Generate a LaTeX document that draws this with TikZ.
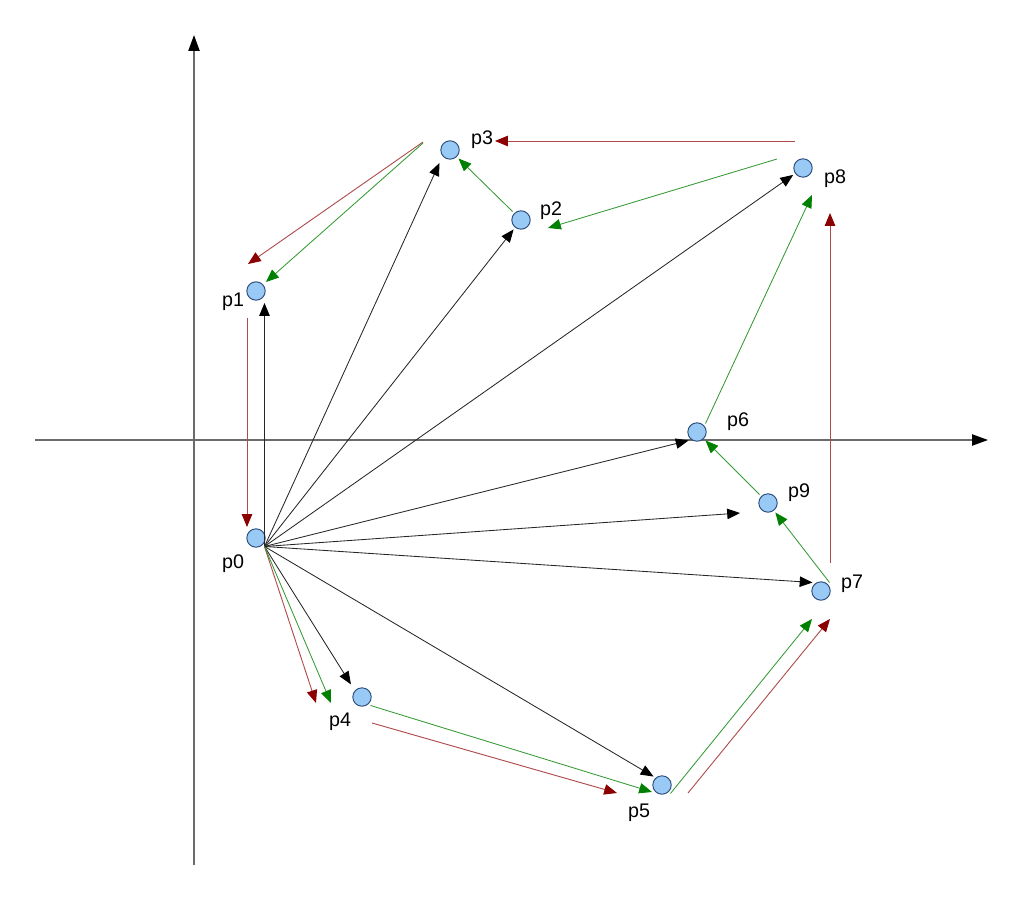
\documentclass[tikz,border=0pt]{standalone}
\usepackage{fontspec}
\setmainfont{Liberation Sans}
\usetikzlibrary{arrows.meta}
\definecolor{ptfill}{HTML}{99C9F5}
\definecolor{ptdraw}{HTML}{2F4F7F}
\definecolor{hullred}{HTML}{8B0000}
\definecolor{scangreen}{HTML}{008000}
\definecolor{axisgray}{HTML}{6A6A6A}
\tikzset{
  every node/.style={font=\fontsize{14}{16}\selectfont},
  pt/.style={circle,draw=ptdraw,fill=ptfill,line width=0.7pt,minimum size=0.46cm,inner sep=0pt,outer sep=0.07cm},
  ptlabel/.style={inner sep=0pt},
  axis/.style={draw=axisgray,line width=1.2pt,-{Triangle[length=0.4cm,width=0.28cm,color=black]}},
  ray/.style={draw=black!85,line width=0.6pt,-{Triangle[length=0.32cm,width=0.26cm,color=black]}},
  hull/.style={draw=hullred!70,line width=0.65pt,-{Triangle[length=0.32cm,width=0.26cm,color=hullred]}},
  scan/.style={draw=scangreen!80,line width=0.6pt,-{Triangle[length=0.32cm,width=0.26cm,color=scangreen]}},
}

\begin{document}
\begin{tikzpicture}[x=0.025cm,y=-0.025cm]
\useasboundingbox (0,0) rectangle (1024,918);

% axes
\coordinate (xl) at (35,440);
\coordinate (xr) at (988,440);
\coordinate (yb) at (194,865);
\coordinate (yt) at (194,35);
\draw[axis] (xl) -- (xr);
\draw[axis] (yb) -- (yt);

% points
\node[pt] (p0) at (256,538) {};
\node[pt] (p1) at (256,291) {};
\node[pt] (p2) at (521,220) {};
\node[pt] (p3) at (450,150) {};
\node[pt] (p4) at (362,697) {};
\node[pt] (p5) at (662,785) {};
\node[pt] (p6) at (697,432) {};
\node[pt] (p7) at (821,591) {};
\node[pt] (p8) at (803,168) {};
\node[pt] (p9) at (768,503) {};

\node[ptlabel] (l0) at (233,564) {p0};
\node[ptlabel] (l1) at (233,302) {p1};
\node[ptlabel] (l2) at (551,211) {p2};
\node[ptlabel] (l3) at (482,140) {p3};
\node[ptlabel] (l4) at (340,722) {p4};
\node[ptlabel] (l5) at (639,813) {p5};
\node[ptlabel] (l6) at (738,422) {p6};
\node[ptlabel] (l7) at (852,584) {p7};
\node[ptlabel] (l8) at (835,179) {p8};
\node[ptlabel] (l9) at (799,493) {p9};

% rays from p0
\coordinate (q9) at (740,513);
\draw[ray] (p0.south east) -- (p0.south east |- p1.south);
\draw[ray,shorten >=3.5pt] (p0.south east) -- (p3.south west);
\draw[ray] (p0.south east) -- (p2);
\draw[ray] (p0.south east) -- (p8);
\draw[ray] (p0.south east) -- (p6.south west);
\draw[ray] (p0.south east) -- (q9);
\draw[ray] (p0.south east) -- (p7.north west);
\draw[ray] (p0.south east) -- (p5.north west);
\draw[ray,shorten >=3.5pt] (p0.south east) -- (p4.north west);

% hull
\coordinate (r1a) at (423,142); \coordinate (r1b) at (248,264);
\coordinate (r2a) at (247,318); \coordinate (r2b) at (247,527);
\coordinate (r3b) at (316,703);
\coordinate (r4a) at (372,723); \coordinate (r4b) at (617,793);
\coordinate (r5a) at (688,793); \coordinate (r5b) at (830,619);
\coordinate (r6a) at (830,563); \coordinate (r6b) at (830,213);
\coordinate (r7a) at (795,141); \coordinate (r7b) at (495,141);
\draw[hull] (r1a) -- (r1b);
\draw[hull] (r2a) -- (r2b);
\draw[hull] (p0.south east) -- (r3b);
\draw[hull] (r4a) -- (r4b);
\draw[hull] (r5a) -- (r5b);
\draw[hull] (r6a) -- (r6b);
\draw[hull] (r7a) -- (r7b);

% scan
\coordinate (g1a) at (423,143); \coordinate (g1b) at (266,282);
\coordinate (g2b) at (331,703);
\coordinate (g3b) at (652,792);
\coordinate (g4b) at (812,619);
\coordinate (g7b) at (812,195);
\coordinate (g8a) at (777,159); \coordinate (g8b) at (548,228);
\draw[scan] (g1a) -- (g1b);
\draw[scan] (p0.south east) -- (g2b);
\draw[scan] (p4.south east) -- (g3b);
\draw[scan] (p5.south east) -- (g4b);
\draw[scan] (p7.north east) -- (p9);
\draw[scan] (p9.north west) -- (p6.south east);
\draw[scan] (p6.north east) -- (g7b);
\draw[scan] (g8a) -- (g8b);
\draw[scan] (p2.north west) -- (p3.south east);

\end{tikzpicture}
\end{document}
